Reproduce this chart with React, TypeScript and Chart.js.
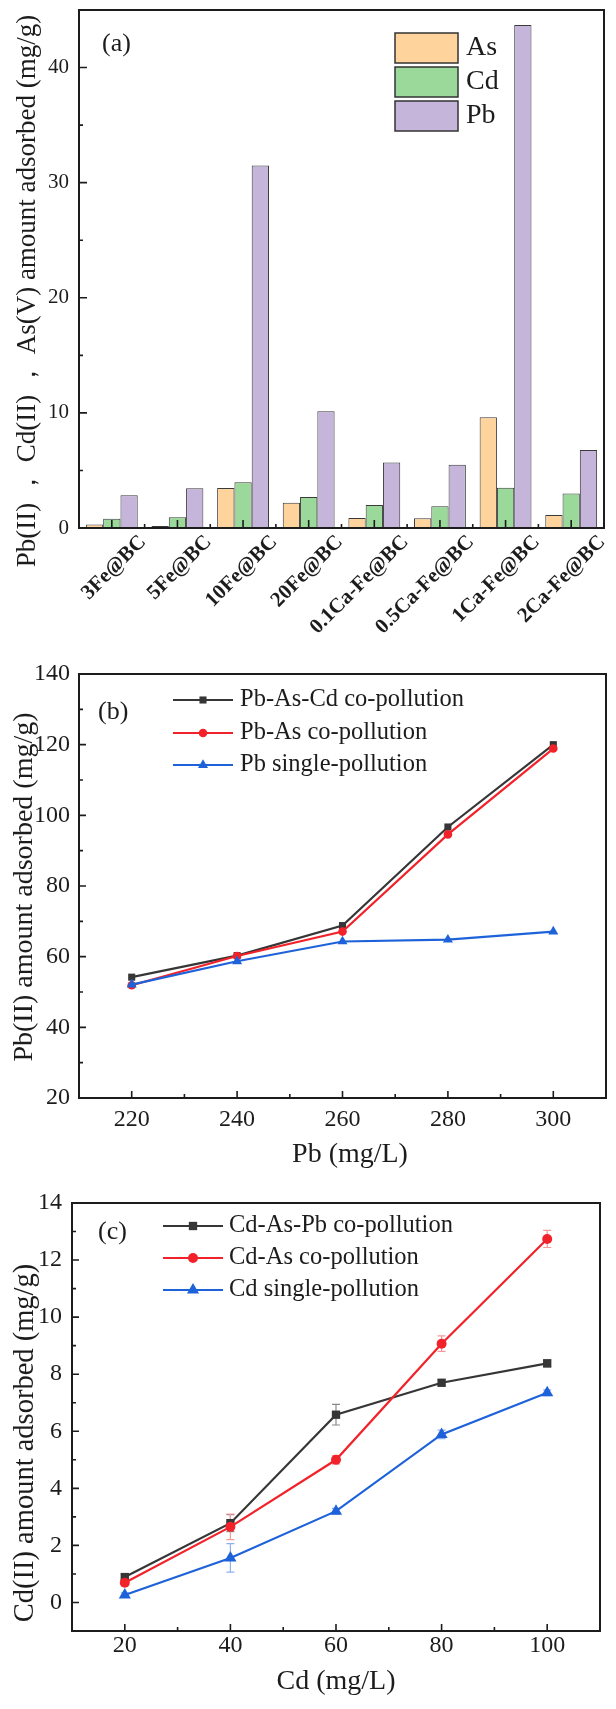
import React, { useEffect, useRef } from 'react';
import { Chart, registerables } from 'chart.js';

Chart.register(...registerables);

const SERIF = '"Liberation Serif", "Times New Roman", serif';
const INK = '#1c1c1c';

// ---------- (a) bar chart ----------
const A_CATEGORIES = ['3Fe@BC', '5Fe@BC', '10Fe@BC', '20Fe@BC', '0.1Ca-Fe@BC', '0.5Ca-Fe@BC', '1Ca-Fe@BC', '2Ca-Fe@BC'];
const A_AS = [0.3, 0.17, 3.48, 2.2, 0.87, 0.84, 9.63, 1.12];
const A_CD = [0.8, 0.93, 3.98, 2.7, 1.99, 1.9, 3.5, 3.0];
const A_PB = [2.85, 3.45, 31.5, 10.15, 5.68, 5.5, 43.7, 6.77];
const A_Y_TICKS = [0, 10, 20, 30, 40];
const A_Y_MINOR = [5, 15, 25, 35];
const A_Y_TITLE = 'Pb(II) \uFF0C Cd(II) \uFF0C As(V) amount adsorbed (mg/g)';

// ---------- (b) Pb lines ----------
const B_PB_CONC = [220, 240, 260, 280, 300];
const B_PB_AS_CD = [54.2, 60.3, 68.8, 96.7, 120.0];
const B_PB_AS = [51.9, 60.2, 67.1, 94.6, 118.9];
const B_PB_SINGLE = [52.1, 58.7, 64.3, 64.8, 67.1];
const B_X_TICKS = [220, 240, 260, 280, 300];
const B_X_MINOR = [230, 250, 270, 290];
const B_Y_TICKS = [20, 40, 60, 80, 100, 120, 140];
const B_Y_MINOR = [30, 50, 70, 90, 110, 130];
const B_X_TITLE = 'Pb (mg/L)';
const B_Y_TITLE = 'Pb(II) amount adsorbed (mg/g)';

// ---------- (c) Cd lines ----------
const C_CD_CONC = [20, 40, 60, 80, 100];
const C_CD_AS_PB = [0.89, 2.78, 6.58, 7.7, 8.38];
const C_CD_AS = [0.69, 2.65, 5.0, 9.07, 12.74];
const C_CD_SINGLE = [0.26, 1.56, 3.2, 5.89, 7.35];
const C_ERR_CD_AS_PB = [0.1, 0.3, 0.36, 0.1, 0.12];
const C_ERR_CD_AS = [0.1, 0.45, 0.15, 0.27, 0.3];
const C_ERR_CD_SINGLE = [0.08, 0.5, 0.1, 0.15, 0.1];
const C_X_TICKS = [20, 40, 60, 80, 100];
const C_X_MINOR = [30, 50, 70, 90];
const C_Y_TICKS = [0, 2, 4, 6, 8, 10, 12, 14];
const C_Y_MINOR = [1, 3, 5, 7, 9, 11, 13];
const C_X_TITLE = 'Cd (mg/L)';
const C_Y_TITLE = 'Cd(II) amount adsorbed (mg/g)';

const COL_AS = '#FFD49C';
const COL_CD = '#9AD99A';
const COL_PB = '#C6B5DB';
const COL_BLACK = '#363636';
const COL_RED = '#F2222A';
const COL_BLUE = '#1E62DA';

function drawMarker(ctx: CanvasRenderingContext2D, style: string, x: number, y: number, r: number, color: string) {
  ctx.save();
  ctx.fillStyle = color;
  ctx.beginPath();
  if (style === 'rect') {
    const s = r * Math.SQRT1_2;
    ctx.rect(x - s, y - s, 2 * s, 2 * s);
  } else if (style === 'triangle') {
    ctx.moveTo(x, y - r);
    ctx.lineTo(x + r * 0.866, y + r * 0.5);
    ctx.lineTo(x - r * 0.866, y + r * 0.5);
    ctx.closePath();
  } else {
    ctx.arc(x, y, r, 0, Math.PI * 2);
  }
  ctx.fill();
  ctx.restore();
}

const decorPlugin = {
  id: 'decor',
  beforeDatasetsDraw(chart: any, _a: any, o: any) {
    if (!o || !o.errors) return;
    const { ctx } = chart;
    const xs = chart.scales.x;
    const ys = chart.scales.y;
    ctx.save();
    ctx.lineWidth = 1.2;
    o.errors.forEach((e: any) => {
      ctx.strokeStyle = e.color;
      e.x.forEach((xv: number, i: number) => {
        const px = xs.getPixelForValue(xv);
        const y1 = ys.getPixelForValue(e.y[i] - e.err[i]);
        const y2 = ys.getPixelForValue(e.y[i] + e.err[i]);
        ctx.beginPath();
        ctx.moveTo(px, y1);
        ctx.lineTo(px, y2);
        ctx.moveTo(px - 4, y1);
        ctx.lineTo(px + 4, y1);
        ctx.moveTo(px - 4, y2);
        ctx.lineTo(px + 4, y2);
        ctx.stroke();
      });
    });
    ctx.restore();
  },
  afterDatasetsDraw(chart: any, _a: any, o: any) {
    if (!o) return;
    const { ctx, chartArea: ca } = chart;
    const xs = chart.scales.x;
    const ys = chart.scales.y;
    ctx.save();
    ctx.strokeStyle = INK;
    ctx.lineWidth = 1.6;
    ctx.beginPath();
    (o.xMajor || []).forEach((v: number) => {
      const p = xs.getPixelForValue(v);
      ctx.moveTo(p, ca.bottom);
      ctx.lineTo(p, ca.bottom - o.majorLen);
    });
    (o.xMinor || []).forEach((v: number) => {
      const p = xs.getPixelForValue(v);
      ctx.moveTo(p, ca.bottom);
      ctx.lineTo(p, ca.bottom - o.minorLen);
    });
    (o.yMajor || []).forEach((v: number) => {
      const p = ys.getPixelForValue(v);
      ctx.moveTo(ca.left, p);
      ctx.lineTo(ca.left + o.majorLen, p);
    });
    (o.yMinor || []).forEach((v: number) => {
      const p = ys.getPixelForValue(v);
      ctx.moveTo(ca.left, p);
      ctx.lineTo(ca.left + o.minorLen, p);
    });
    ctx.stroke();
    ctx.lineWidth = 2;
    ctx.strokeRect(ca.left, ca.top, ca.right - ca.left, ca.bottom - ca.top);
    ctx.restore();
  },
  afterDraw(chart: any, _a: any, o: any) {
    if (!o) return;
    const { ctx, chartArea: ca } = chart;
    ctx.save();
    ctx.fillStyle = INK;
    ctx.textBaseline = 'middle';
    ctx.textAlign = 'left';
    if (o.tag) {
      ctx.font = `${o.tag.size}px ${SERIF}`;
      ctx.fillText(o.tag.text, ca.left + o.tag.dx, ca.top + o.tag.dy);
    }
    if (o.yTitle) {
      ctx.save();
      ctx.font = `${o.yTitle.size}px ${SERIF}`;
      ctx.translate(o.yTitle.x, o.yTitle.y);
      ctx.rotate(-Math.PI / 2);
      ctx.textAlign = 'center';
      ctx.fillText(o.yTitle.text, 0, 0);
      ctx.restore();
    }
    if (o.xTitle) {
      ctx.save();
      ctx.font = `${o.xTitle.size}px ${SERIF}`;
      ctx.textAlign = 'center';
      ctx.fillText(o.xTitle.text, o.xTitle.x, o.xTitle.y);
      ctx.restore();
    }
    if (o.legend) {
      const L = o.legend;
      chart.data.datasets.forEach((ds: any, i: number) => {
        const cy = ca.top + L.rows[i];
        if (L.kind === 'box') {
          ctx.fillStyle = ds.backgroundColor;
          ctx.fillRect(ca.left + L.x0, cy - L.h / 2, L.x1 - L.x0, L.h);
          ctx.strokeStyle = '#333';
          ctx.lineWidth = 1.5;
          ctx.strokeRect(ca.left + L.x0, cy - L.h / 2, L.x1 - L.x0, L.h);
        } else {
          ctx.strokeStyle = ds.borderColor;
          ctx.lineWidth = 2.2;
          ctx.beginPath();
          ctx.moveTo(ca.left + L.x0, cy);
          ctx.lineTo(ca.left + L.x1, cy);
          ctx.stroke();
          drawMarker(ctx, ds.pointStyle, ca.left + (L.x0 + L.x1) / 2, cy, ds.pointRadius, ds.backgroundColor);
        }
        ctx.fillStyle = INK;
        ctx.font = `${L.size}px ${SERIF}`;
        ctx.textAlign = 'left';
        ctx.fillText(ds.label, ca.left + L.tx, cy);
      });
    }
    ctx.restore();
  },
};

function fixSize(w?: number, h?: number) {
  return (s: any) => {
    if (w !== undefined) s.width = w;
    if (h !== undefined) s.height = h;
    s.paddingLeft = 0;
    s.paddingRight = 0;
    s.paddingTop = 0;
    s.paddingBottom = 0;
  };
}

function setTicks(vals: number[]) {
  return (s: any) => {
    s.ticks = vals.map((v) => ({ value: v }));
  };
}

const tickFont = (size: number, weight?: string) => ({ family: SERIF, size, weight: weight as any });

function configA(): any {
  return {
    type: 'bar',
    data: {
      labels: A_CATEGORIES,
      datasets: [
        { label: 'As', data: A_AS, backgroundColor: COL_AS, borderColor: '#3a3a3a', borderWidth: 1, categoryPercentage: 0.79, barPercentage: 1 },
        { label: 'Cd', data: A_CD, backgroundColor: COL_CD, borderColor: '#3a3a3a', borderWidth: 1, categoryPercentage: 0.79, barPercentage: 1 },
        { label: 'Pb', data: A_PB, backgroundColor: COL_PB, borderColor: '#3a3a3a', borderWidth: 1, categoryPercentage: 0.79, barPercentage: 1 },
      ],
    },
    options: {
      animation: false,
      responsive: false,
      events: [],
      layout: { padding: { top: 10, right: 12, left: 0, bottom: 0 } },
      plugins: {
        legend: { display: false },
        tooltip: { enabled: false },
        decor: {
          xMajor: A_CATEGORIES.map((_, i) => i),
          xMinor: A_CATEGORIES.slice(1).map((_, i) => i + 0.5),
          yMajor: A_Y_TICKS,
          yMinor: A_Y_MINOR,
          majorLen: 8,
          minorLen: 4,
          tag: { text: '(a)', size: 26, dx: 23, dy: 34 },
          yTitle: { text: A_Y_TITLE, size: 27, x: 28, y: 291 },
          legend: { kind: 'box', x0: 316, x1: 379, h: 30, tx: 387, size: 28, rows: [38, 72, 106] },
        },
      },
      scales: {
        x: {
          grid: { display: false, drawTicks: false },
          border: { display: false },
          ticks: { autoSkip: false, minRotation: 45, maxRotation: 45, labelOffset: 31, padding: 2, color: INK, font: tickFont(21, 'bold') },
          afterFit: fixSize(undefined, 134),
        },
        y: {
          min: 0,
          max: 45,
          grid: { display: false, drawTicks: false },
          border: { display: false },
          afterBuildTicks: setTicks(A_Y_TICKS),
          ticks: { padding: 10, color: INK, font: tickFont(21) },
          afterFit: fixSize(79, undefined),
        },
      },
    },
  };
}

function lineDs(label: string, xs: number[], ys: number[], color: string, style: string, r: number, order: number) {
  return {
    label,
    data: xs.map((x, i) => ({ x, y: ys[i] })),
    borderColor: color,
    backgroundColor: color,
    pointBackgroundColor: color,
    pointBorderColor: color,
    pointBorderWidth: 0,
    pointStyle: style,
    pointRadius: r,
    borderWidth: 2.2,
    tension: 0,
    order,
    clip: false,
  };
}

function configB(): any {
  return {
    type: 'line',
    data: {
      datasets: [
        lineDs('Pb-As-Cd co-pollution', B_PB_CONC, B_PB_AS_CD, COL_BLACK, 'rect', 5, 3),
        lineDs('Pb-As co-pollution', B_PB_CONC, B_PB_AS, COL_RED, 'circle', 4.3, 2),
        lineDs('Pb single-pollution', B_PB_CONC, B_PB_SINGLE, COL_BLUE, 'triangle', 5.8, 1),
      ],
    },
    options: {
      animation: false,
      responsive: false,
      events: [],
      layout: { padding: { top: 12, right: 10, left: 0, bottom: 0 } },
      plugins: {
        legend: { display: false },
        tooltip: { enabled: false },
        decor: {
          xMajor: B_X_TICKS,
          xMinor: B_X_MINOR,
          yMajor: B_Y_TICKS,
          yMinor: B_Y_MINOR,
          majorLen: 7,
          minorLen: 4,
          tag: { text: '(b)', size: 26, dx: 19, dy: 38 },
          legend: { kind: 'line', x0: 94, x1: 154, tx: 161, size: 24.5, rows: [26, 59, 91] },
          yTitle: { text: B_Y_TITLE, size: 28, x: 25, y: 225 },
          xTitle: { text: B_X_TITLE, size: 28, x: 350, y: 493 },
        },
      },
      scales: {
        x: {
          type: 'linear',
          min: 210,
          max: 310,
          grid: { display: false, drawTicks: false },
          border: { display: false },
          afterBuildTicks: setTicks(B_X_TICKS),
          ticks: { padding: 7, color: INK, font: tickFont(24) },
          afterFit: fixSize(undefined, 87),
        },
        y: {
          min: 20,
          max: 140,
          grid: { display: false, drawTicks: false },
          border: { display: false },
          afterBuildTicks: setTicks(B_Y_TICKS),
          ticks: { padding: 9, color: INK, font: tickFont(24) },
          afterFit: fixSize(79, undefined),
        },
      },
    },
  };
}

function configC(): any {
  return {
    type: 'line',
    data: {
      datasets: [
        lineDs('Cd-As-Pb co-pollution', C_CD_CONC, C_CD_AS_PB, COL_BLACK, 'rect', 5.9, 3),
        lineDs('Cd-As co-pollution', C_CD_CONC, C_CD_AS, COL_RED, 'circle', 5, 2),
        lineDs('Cd single-pollution', C_CD_CONC, C_CD_SINGLE, COL_BLUE, 'triangle', 7, 1),
      ],
    },
    options: {
      animation: false,
      responsive: false,
      events: [],
      layout: { padding: { top: 18, right: 16, left: 0, bottom: 0 } },
      plugins: {
        legend: { display: false },
        tooltip: { enabled: false },
        decor: {
          xMajor: C_X_TICKS,
          xMinor: C_X_MINOR,
          yMajor: C_Y_TICKS,
          yMinor: C_Y_MINOR,
          majorLen: 7,
          minorLen: 4,
          tag: { text: '(c)', size: 26, dx: 26, dy: 29 },
          legend: { kind: 'line', x0: 91, x1: 151, tx: 157, size: 24.5, rows: [23, 55, 87] },
          yTitle: { text: C_Y_TITLE, size: 28.5, x: 26, y: 258 },
          xTitle: { text: C_X_TITLE, size: 28, x: 336, y: 497 },
          errors: [
            { x: C_CD_CONC, y: C_CD_AS_PB, err: C_ERR_CD_AS_PB, color: '#8a8a8a' },
            { x: C_CD_CONC, y: C_CD_AS, err: C_ERR_CD_AS, color: '#f59a9a' },
            { x: C_CD_CONC, y: C_CD_SINGLE, err: C_ERR_CD_SINGLE, color: '#8fb0ee' },
          ],
        },
      },
      scales: {
        x: {
          type: 'linear',
          min: 10,
          max: 110,
          grid: { display: false, drawTicks: false },
          border: { display: false },
          afterBuildTicks: setTicks(C_X_TICKS),
          ticks: { padding: 0, color: INK, font: tickFont(24) },
          afterFit: fixSize(undefined, 78),
        },
        y: {
          min: -1,
          max: 14,
          grid: { display: false, drawTicks: false },
          border: { display: false },
          afterBuildTicks: setTicks(C_Y_TICKS),
          ticks: { padding: 10, color: INK, font: tickFont(24) },
          afterFit: fixSize(72, undefined),
        },
      },
    },
  };
}

function ChartCanvas({ top, height, make }: { top: number; height: number; make: () => any }) {
  const ref = useRef<HTMLCanvasElement | null>(null);
  useEffect(() => {
    if (!ref.current) return;
    const cfg = make();
    cfg.plugins = [decorPlugin];
    const chart = new Chart(ref.current, cfg);
    return () => chart.destroy();
  }, []);
  return (
    <canvas
      ref={ref}
      width={616}
      height={height}
      style={{ position: 'absolute', left: 0, top, width: 616, height, display: 'block' }}
    />
  );
}

export default function App() {
  return (
    <div style={{ position: 'absolute', left: 0, top: 0, width: 616, height: 1709, background: '#ffffff', overflow: 'hidden' }}>
      <ChartCanvas top={0} height={662} make={configA} />
      <ChartCanvas top={662} height={523} make={configB} />
      <ChartCanvas top={1185} height={524} make={configC} />
    </div>
  );
}
